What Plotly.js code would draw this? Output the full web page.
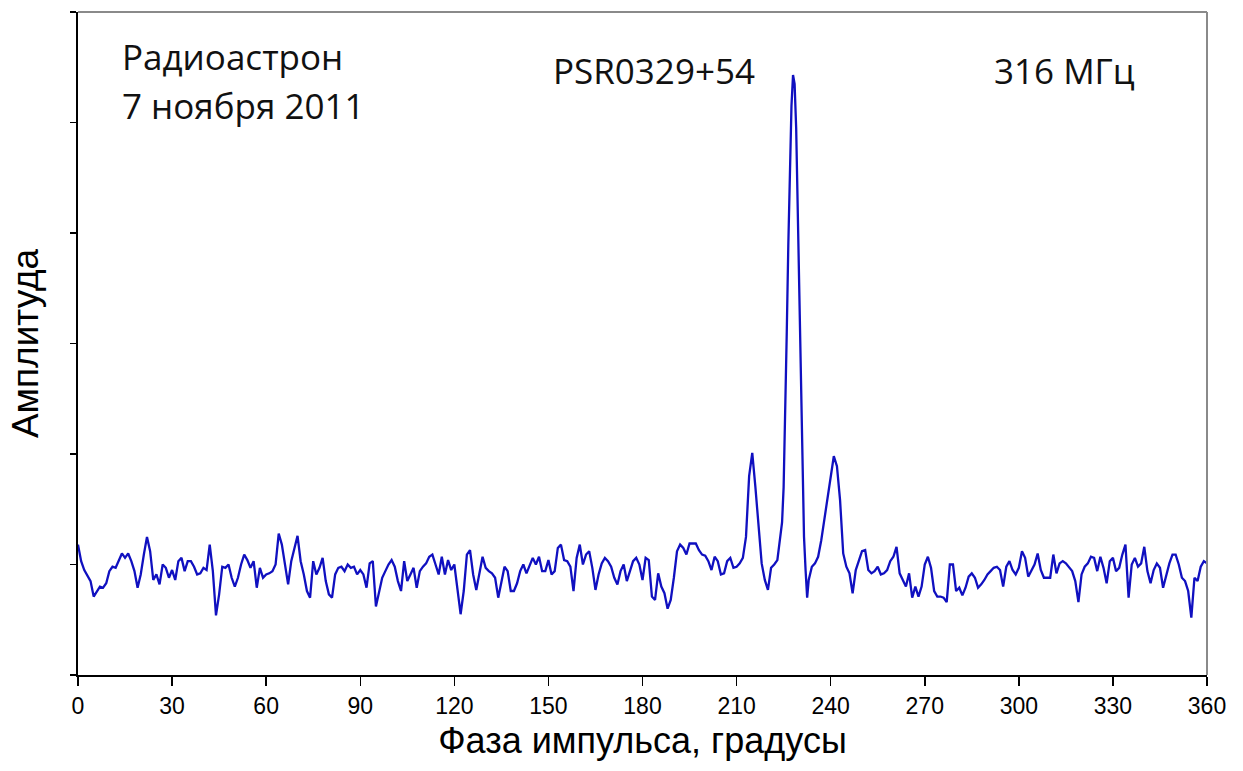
<!DOCTYPE html>
<html>
<head>
<meta charset="utf-8">
<script src="https://cdn.plot.ly/plotly-3.0.1.min.js"></script>
<style>html,body{margin:0;padding:0;background:#fff;}#chart{width:1243px;height:771px;}</style>
</head>
<body>
<div id="chart"></div>
<script>
// Amplitude at integer pulse phase (degrees 0..360)
const amplitudeByDegree = [
1.18,1.03,0.95,0.90,0.85,0.71,0.76,0.80,0.79,0.83,
0.94,0.98,0.97,1.03,1.10,1.06,1.10,1.03,0.94,0.79,
0.91,1.09,1.25,1.12,0.86,0.91,0.82,1.00,0.97,0.88,
0.95,0.86,1.03,1.06,0.94,1.03,1.03,0.98,0.91,0.92,
0.97,0.95,1.18,0.94,0.54,0.73,0.98,0.97,1.00,0.88,
0.80,0.88,1.00,1.09,1.04,0.97,1.03,0.79,0.97,0.88,
0.91,0.92,0.94,1.00,1.28,1.18,1.00,0.82,1.03,1.15,
1.26,1.03,0.91,0.76,0.70,1.03,0.91,0.97,1.06,0.85,
0.73,0.70,0.91,0.97,0.98,0.94,1.00,0.97,0.98,0.91,
0.95,0.91,0.79,1.01,1.03,0.62,0.76,0.88,0.94,1.00,
1.04,0.98,0.85,0.76,1.03,0.85,0.91,0.97,0.79,0.94,
0.98,1.01,1.07,1.09,1.00,0.91,1.07,0.91,1.04,0.95,
1.00,0.76,0.55,0.76,1.09,1.13,0.91,0.77,0.91,1.07,
0.97,0.94,0.92,0.88,0.70,0.83,0.98,0.94,0.76,0.76,
0.83,0.94,1.00,0.92,1.00,1.06,1.00,1.07,0.94,0.94,
1.04,0.91,0.94,1.15,1.18,1.04,1.03,0.98,0.76,1.06,
1.18,1.00,1.09,1.12,0.97,0.77,0.91,1.01,1.06,1.03,
0.98,0.88,0.82,0.94,1.00,0.85,0.94,1.03,1.06,1.00,
0.86,1.06,1.04,0.71,0.68,0.92,0.80,0.74,0.60,0.68,
0.88,1.12,1.18,1.15,1.09,1.19,1.19,1.19,1.13,1.09,
1.08,1.03,0.95,1.07,1.03,0.91,0.92,1.03,1.06,0.97,
0.98,1.01,1.06,1.25,1.80,2.01,1.70,1.34,1.01,0.86,
0.77,0.97,1.00,1.04,1.25,1.70,3.10,4.60,5.43,4.95,
3.45,2.00,0.95,0.86,0.98,1.01,1.07,1.22,1.40,1.61,
1.80,1.98,1.89,1.58,1.10,0.98,0.92,0.74,0.95,1.04,
1.12,1.13,0.95,0.92,0.94,0.98,0.91,0.92,0.95,1.03,
1.07,1.16,0.92,0.86,0.80,0.92,0.70,0.80,0.71,0.80,
1.00,1.07,0.97,0.76,0.71,0.71,0.70,0.66,1.00,1.00,
0.76,0.79,0.72,0.79,0.89,0.92,0.88,0.79,0.82,0.86,
0.91,0.94,0.97,0.98,0.95,0.80,0.98,1.03,0.95,0.91,
0.97,1.12,1.06,0.89,0.94,1.00,1.10,0.95,0.88,0.88,
0.88,1.09,0.92,1.01,1.03,1.01,0.97,0.94,0.85,0.66,
0.91,0.98,1.01,1.07,1.06,0.94,1.07,0.97,0.83,1.03,
1.06,0.94,0.97,1.09,1.18,0.70,1.00,1.06,0.98,1.01,
1.16,0.94,0.83,0.95,1.01,0.97,0.79,0.91,1.01,1.09,
1.09,1.00,0.88,0.85,0.76,0.52,0.88,0.85,0.98,1.03,
1.01
];
// Extra half-degree samples across the main pulse
const peakPhase = [224.5,225.5,226.5,227.5,228.5,229.5,230.5,231.5,232.5];
const peakAmplitude = [1.38,2.30,3.90,5.15,5.35,4.25,2.65,1.25,0.70];

const xTickVals = [0,30,60,90,120,150,180,210,240,270,300,330,360];
const xTickText = ["0","30","60","90","120","150","180","210","240","270","300","330","360"];
const yTickVals = [0,1,2,3,4,5,6];

const labelTitle = "Фаза импульса, градусы";
const labelY = "Амплитуда";
const textObs = "Радиоастрон";
const textDate = "7 ноября 2011";
const textPsr = "PSR0329+54";
const textFreq = "316 МГц";

// merge samples
const pts = [];
amplitudeByDegree.forEach((v, i) => pts.push([i, v]));
peakPhase.forEach((p, i) => pts.push([p, peakAmplitude[i]]));
pts.sort((a, b) => a[0] - b[0]);
const xs = pts.map(p => p[0]);
const ys = pts.map(p => p[1]);

const trace = {
  x: xs, y: ys, type: 'scatter', mode: 'lines',
  line: {color: '#1010c0', width: 2.3},
  hoverinfo: 'skip'
};

const annFont = {family: 'Open Sans, sans-serif', size: 35, color: '#111'};
const layout = {
  width: 1243, height: 771,
  margin: {l: 78, r: 36, t: 12, b: 96},
  paper_bgcolor: '#fff', plot_bgcolor: '#fff',
  showlegend: false,
  xaxis: {
    range: [0, 360], tickvals: xTickVals, ticktext: xTickText,
    ticks: 'outside', ticklen: 9, tickwidth: 1.5, tickcolor: '#000',
    showline: true, linecolor: '#000', linewidth: 2, showgrid: false, zeroline: false,
    tickfont: {family: 'Liberation Sans, Arial, sans-serif', size: 23, color: '#000'},
    title: {text: labelTitle, font: {family: 'Liberation Sans, Arial, sans-serif', size: 36, color: '#000'}, standoff: 10}
  },
  yaxis: {
    range: [0, 6], tickvals: yTickVals, showticklabels: false,
    ticks: 'outside', ticklen: 6, tickwidth: 1.5, tickcolor: '#000',
    showline: true, linecolor: '#000', linewidth: 2, showgrid: false, zeroline: false,
    title: {text: labelY, font: {family: 'Liberation Sans, Arial, sans-serif', size: 37, color: '#000'}, standoff: 20}
  },
  shapes: [
    {type: 'line', xref: 'paper', yref: 'paper', x0: 0, x1: 1, y0: 1, y1: 1, line: {color: '#8a8a8a', width: 2}},
    {type: 'line', xref: 'paper', yref: 'paper', x0: 1, x1: 1, y0: 0, y1: 1, line: {color: '#8a8a8a', width: 2}}
  ],
  annotations: [
    {text: textObs, x: 13.5, y: 5.6, xref: 'x', yref: 'y', xanchor: 'left', yanchor: 'middle', showarrow: false, font: annFont},
    {text: textDate, x: 13.5, y: 5.15, xref: 'x', yref: 'y', xanchor: 'left', yanchor: 'middle', showarrow: false, font: annFont},
    {text: textPsr, x: 150.8, y: 5.47, xref: 'x', yref: 'y', xanchor: 'left', yanchor: 'middle', showarrow: false, font: annFont},
    {text: textFreq, x: 291.3, y: 5.47, xref: 'x', yref: 'y', xanchor: 'left', yanchor: 'middle', showarrow: false, font: annFont}
  ]
};

Plotly.newPlot('chart', [trace], layout, {displayModeBar: false, staticPlot: true});
</script>
</body>
</html>
